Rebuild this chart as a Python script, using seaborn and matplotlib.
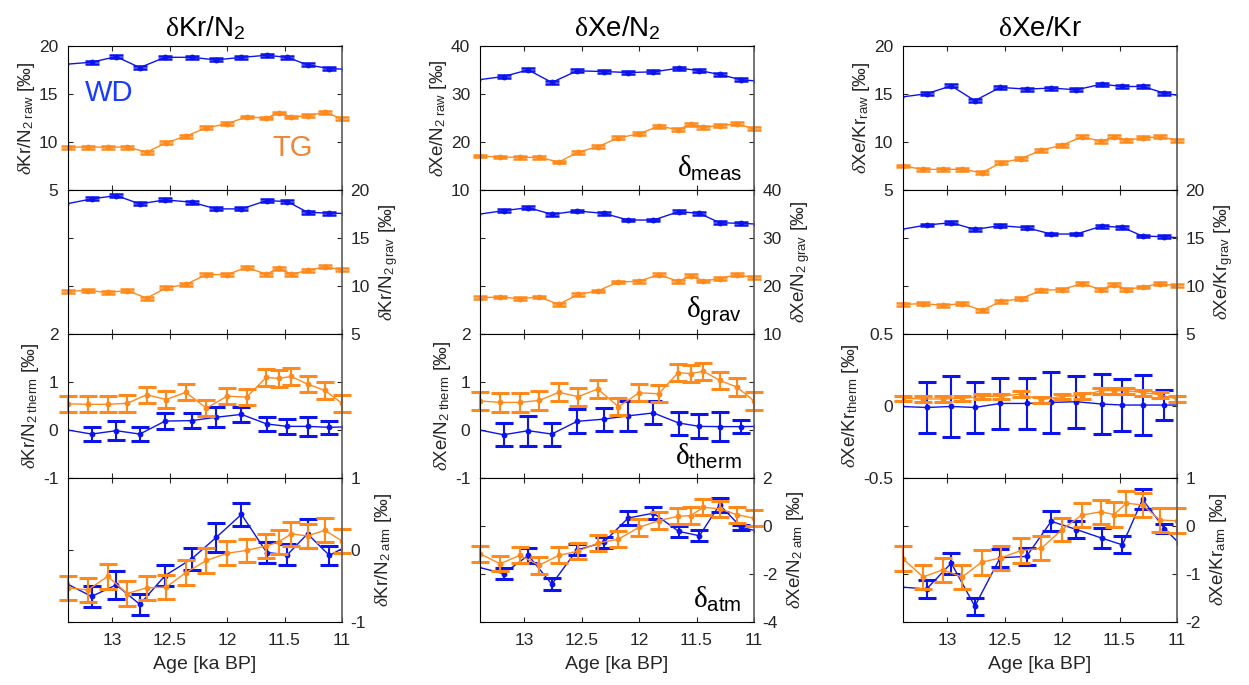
import numpy as np
import pandas as pd
import seaborn as sns
import matplotlib
matplotlib.use("Agg")
import matplotlib.pyplot as plt
from matplotlib.ticker import FixedLocator, FuncFormatter

# ---------------- data ----------------
AGE_TG = [13.385, 13.21, 13.04, 12.87, 12.70, 12.53, 12.36, 12.18, 12.00, 11.83,
          11.66, 11.55, 11.44, 11.30, 11.15, 11.00]
AGE_WD = [13.40, 13.18, 12.965, 12.76, 12.54, 12.31, 12.095, 11.875, 11.655,
          11.475, 11.30, 11.11, 10.98]
XTICKS = [13, 12.5, 12, 11.5, 11]

# Kr/N2
KRN2_RAW_WD = [18.10, 18.31, 18.89, 17.75, 18.82, 18.82, 18.55, 18.82, 19.03, 18.82, 18.03, 17.65, 17.58]
KRN2_RAW_TG = [9.46, 9.46, 9.46, 9.46, 8.94, 9.91, 10.60, 11.46, 11.91, 12.60, 12.50, 13.02, 12.60, 12.74, 13.09, 12.40]
KRN2_GRAV_WD = [18.54, 19.06, 19.41, 18.54, 18.96, 18.72, 18.02, 18.02, 18.89, 18.78, 17.67, 17.57, 17.55]
KRN2_GRAV_TG = [9.44, 9.51, 9.31, 9.51, 8.72, 9.79, 10.14, 11.18, 11.18, 11.91, 11.22, 11.84, 11.22, 11.60, 11.98, 11.67]
KRN2_THERM_WD = [0.0, -0.09, -0.02, -0.09, 0.18, 0.19, 0.26, 0.32, 0.12, 0.07, 0.07, 0.05, 0.06]
KRN2_THERM_WD_ERR = [0, 0.15, 0.20, 0.15, 0.16, 0.16, 0.21, 0.15, 0.15, 0.16, 0.20, 0.13, 0]
KRN2_THERM_TG = [0.54, 0.53, 0.53, 0.55, 0.73, 0.63, 0.78, 0.45, 0.70, 0.68, 1.09, 1.07, 1.11, 0.95, 0.82, 0.55]
KRN2_THERM_TG_ERR = [0.17, 0.17, 0.17, 0.17, 0.17, 0.17, 0.17, 0.17, 0.17, 0.17, 0.17, 0.17, 0.17, 0.17, 0.17, 0.17]
KRN2_ATM_WD = [-0.47, -0.65, -0.49, -0.76, -0.36, -0.13, 0.17, 0.49, -0.04, -0.07, 0.22, -0.08, 0.03]
KRN2_ATM_WD_ERR = [0, 0.15, 0.20, 0.15, 0.15, 0.15, 0.20, 0.155, 0.15, 0.15, 0.20, 0.13, 0]
KRN2_ATM_TG = [-0.53, -0.56, -0.37, -0.61, -0.53, -0.52, -0.32, -0.15, -0.05, -0.01, 0.05, 0.11, 0.22, 0.19, 0.27, 0.12]
KRN2_ATM_TG_ERR = [0.17, 0.17, 0.17, 0.18, 0.17, 0.17, 0.17, 0.17, 0.17, 0.16, 0.17, 0.17, 0.17, 0.17, 0.17, 0.17]
KRN2_MEAS_ERR = 0.15

# Xe/N2
XEN2_RAW_WD = [32.95, 33.64, 35.02, 32.40, 34.82, 34.68, 34.47, 34.61, 35.37, 34.89, 34.06, 32.95, 32.70]
XEN2_RAW_TG = [17.06, 16.85, 16.78, 16.78, 15.81, 17.88, 18.99, 20.86, 21.69, 23.28, 22.58, 23.69, 23.07, 23.41, 23.76, 22.72]
XEN2_GRAV_WD = [34.91, 35.67, 36.30, 34.91, 35.60, 35.12, 33.72, 33.72, 35.46, 35.12, 33.16, 33.02, 32.88]
XEN2_GRAV_TG = [17.53, 17.67, 17.32, 17.67, 16.13, 18.23, 18.93, 20.81, 20.95, 22.34, 20.95, 22.07, 21.02, 21.50, 22.34, 21.72]
XEN2_THERM_WD = [0.0, -0.105, -0.02, -0.09, 0.175, 0.22, 0.29, 0.35, 0.14, 0.07, 0.065, 0.065, 0.07]
XEN2_THERM_WD_ERR = [0, 0.24, 0.31, 0.24, 0.25, 0.24, 0.31, 0.24, 0.24, 0.25, 0.31, 0.13, 0]
XEN2_THERM_TG = [0.60, 0.57, 0.57, 0.61, 0.78, 0.69, 0.85, 0.48, 0.77, 0.75, 1.19, 1.17, 1.22, 1.03, 0.89, 0.60]
XEN2_THERM_TG_ERR = [0.19, 0.19, 0.19, 0.19, 0.19, 0.19, 0.18, 0.18, 0.18, 0.18, 0.18, 0.18, 0.18, 0.18, 0.18, 0.19]
XEN2_ATM_WD = [-1.73, -2.00, -1.24, -2.44, -1.01, -0.70, 0.32, 0.52, -0.24, -0.42, 0.87, -0.07, -0.22]
XEN2_ATM_WD_ERR = [0, 0.23, 0.30, 0.25, 0.23, 0.23, 0.31, 0.24, 0.23, 0.24, 0.29, 0.11, 0]
XEN2_ATM_TG = [-1.17, -1.59, -1.24, -1.65, -1.24, -1.06, -0.73, -0.56, -0.07, 0.21, 0.39, 0.42, 0.77, 0.70, 0.46, 0.31]
XEN2_ATM_TG_ERR = [0.33, 0.32, 0.33, 0.35, 0.33, 0.34, 0.32, 0.33, 0.35, 0.34, 0.34, 0.34, 0.34, 0.33, 0.33, 0.33]
XEN2_MEAS_ERR = 0.3

# Xe/Kr
XEKR_RAW_WD = [14.68, 15.02, 15.85, 14.30, 15.68, 15.51, 15.61, 15.44, 16.02, 15.78, 15.78, 15.09, 14.82]
XEKR_RAW_TG = [7.49, 7.14, 7.14, 7.14, 6.80, 7.83, 8.25, 9.15, 9.66, 10.53, 10.08, 10.53, 10.18, 10.42, 10.53, 10.18]
XEKR_GRAV_WD = [15.88, 16.34, 16.58, 15.88, 16.27, 16.06, 15.40, 15.40, 16.23, 16.09, 15.19, 15.12, 15.01]
XEKR_GRAV_TG = [8.07, 8.14, 7.97, 8.14, 7.44, 8.38, 8.66, 9.54, 9.61, 10.23, 9.61, 10.13, 9.61, 9.88, 10.23, 9.99]
XEKR_THERM_WD = [-0.005, -0.012, -0.005, -0.012, 0.016, 0.016, 0.023, 0.028, 0.012, 0.005, 0.005, 0.005, 0.005]
XEKR_THERM_WD_ERR = [0, 0.18, 0.21, 0.18, 0.18, 0.18, 0.21, 0.18, 0.21, 0.18, 0.21, 0.107, 0]
XEKR_THERM_TG = [0.051, 0.047, 0.047, 0.051, 0.065, 0.065, 0.082, 0.042, 0.065, 0.070, 0.105, 0.105, 0.105, 0.091, 0.077, 0.047]
XEKR_THERM_TG_ERR = [0.02, 0.02, 0.02, 0.02, 0.02, 0.02, 0.02, 0.02, 0.02, 0.02, 0.02, 0.02, 0.02, 0.02, 0.02, 0.02]
XEKR_ATM_WD = [-1.28, -1.32, -0.78, -1.68, -0.67, -0.64, 0.09, -0.08, -0.26, -0.40, 0.55, -0.06, -0.37]
XEKR_ATM_WD_ERR = [0, 0.18, 0.22, 0.18, 0.19, 0.18, 0.21, 0.18, 0.21, 0.18, 0.21, 0.10, 0]
XEKR_ATM_TG = [-0.69, -1.07, -0.92, -1.07, -0.76, -0.67, -0.52, -0.47, -0.08, 0.22, 0.29, 0.23, 0.47, 0.43, 0.12, 0.10]
XEKR_ATM_TG_ERR = [0.26, 0.26, 0.25, 0.26, 0.26, 0.25, 0.26, 0.25, 0.25, 0.25, 0.25, 0.26, 0.25, 0.25, 0.25, 0.26]
XEKR_MEAS_ERR = 0.15

TITLES = [r"$\mathsf{\delta}$Kr/N$_{\mathrm{2}}$", r"$\mathsf{\delta}$Xe/N$_{\mathrm{2}}$", r"$\mathsf{\delta}$Xe/Kr"]
YLABELS = [
    [r"$\delta$Kr/N$_{\mathrm{2\ raw}}$ [‰]", r"$\delta$Kr/N$_{\mathrm{2\ grav}}$ [‰]",
     r"$\delta$Kr/N$_{\mathrm{2\ therm}}$ [‰]", r"$\delta$Kr/N$_{\mathrm{2\ atm}}$ [‰]"],
    [r"$\delta$Xe/N$_{\mathrm{2\ raw}}$ [‰]", r"$\delta$Xe/N$_{\mathrm{2\ grav}}$ [‰]",
     r"$\delta$Xe/N$_{\mathrm{2\ therm}}$ [‰]", r"$\delta$Xe/N$_{\mathrm{2\ atm}}$ [‰]"],
    [r"$\delta$Xe/Kr$_{\mathrm{raw}}$ [‰]", r"$\delta$Xe/Kr$_{\mathrm{grav}}$ [‰]",
     r"$\delta$Xe/Kr$_{\mathrm{therm}}$ [‰]", r"$\delta$Xe/Kr$_{\mathrm{atm}}$ [‰]"],
]
YLIMS = [
    [(5, 20), (5, 20), (-1, 2), (-1, 1)],
    [(10, 40), (10, 40), (-1, 2), (-4, 2)],
    [(5, 20), (5, 20), (-0.5, 0.5), (-2, 1)],
]
YTICKS = [
    [[5, 10, 15, 20], [5, 10, 15, 20], [-1, 0, 1, 2], [-1, 0, 1]],
    [[10, 20, 30, 40], [10, 20, 30, 40], [-1, 0, 1, 2], [-4, -2, 0, 2]],
    [[5, 10, 15, 20], [5, 10, 15, 20], [-0.5, 0, 0.5], [-2, -1, 0, 1]],
]
STAGE_LABELS = [r"$\mathsf{\delta}_{\mathrm{meas}}$", r"$\mathsf{\delta}_{\mathrm{grav}}$",
                r"$\mathsf{\delta}_{\mathrm{therm}}$", r"$\mathsf{\delta}_{\mathrm{atm}}$"]

SERIES = [
    [(KRN2_RAW_WD, KRN2_MEAS_ERR, KRN2_RAW_TG, KRN2_MEAS_ERR),
     (KRN2_GRAV_WD, KRN2_MEAS_ERR, KRN2_GRAV_TG, KRN2_MEAS_ERR),
     (KRN2_THERM_WD, KRN2_THERM_WD_ERR, KRN2_THERM_TG, KRN2_THERM_TG_ERR),
     (KRN2_ATM_WD, KRN2_ATM_WD_ERR, KRN2_ATM_TG, KRN2_ATM_TG_ERR)],
    [(XEN2_RAW_WD, XEN2_MEAS_ERR, XEN2_RAW_TG, XEN2_MEAS_ERR),
     (XEN2_GRAV_WD, XEN2_MEAS_ERR, XEN2_GRAV_TG, XEN2_MEAS_ERR),
     (XEN2_THERM_WD, XEN2_THERM_WD_ERR, XEN2_THERM_TG, XEN2_THERM_TG_ERR),
     (XEN2_ATM_WD, XEN2_ATM_WD_ERR, XEN2_ATM_TG, XEN2_ATM_TG_ERR)],
    [(XEKR_RAW_WD, XEKR_MEAS_ERR, XEKR_RAW_TG, XEKR_MEAS_ERR),
     (XEKR_GRAV_WD, XEKR_MEAS_ERR, XEKR_GRAV_TG, XEKR_MEAS_ERR),
     (XEKR_THERM_WD, XEKR_THERM_WD_ERR, XEKR_THERM_TG, XEKR_THERM_TG_ERR),
     (XEKR_ATM_WD, XEKR_ATM_WD_ERR, XEKR_ATM_TG, XEKR_ATM_TG_ERR)],
]

# ---------------- style ----------------
sns.set_theme(style="ticks")
plt.rcParams["font.family"] = ["Liberation Sans", "DejaVu Sans"]
plt.rcParams.update({
    "mathtext.fontset": "custom",
    "mathtext.rm": "Liberation Sans",
    "mathtext.it": "Liberation Serif:italic",
    "mathtext.sf": "Liberation Serif",
    "mathtext.bf": "Liberation Sans:bold",
    "axes.unicode_minus": False,
    "axes.facecolor": "white",
    "figure.facecolor": "white",
    "axes.linewidth": 0.8,
})

BLUE = "#0c14ee"
ORANGE = "#ff8a1c"
TXT = "#262626"
XLIM = (13.385, 11.0)

W, H = 1249, 685
COL_LEFT = [68, 480, 903]
COL_W = 274
ROW_TOP = 46
ROW_H = 143.9

fig = plt.figure(figsize=(W / 100, H / 100), dpi=100)
fmt = FuncFormatter(lambda v, p: f"{v:g}")


def draw(ax, ages, vals, errs, color, capsize, capthick):
    ages = np.asarray(ages, float)
    vals = np.asarray(vals, float)
    errs = np.broadcast_to(np.asarray(errs, float), vals.shape)
    sns.lineplot(x=ages, y=vals, ax=ax, color=color, lw=1.0, marker="o",
                 markersize=4.2, markeredgewidth=0, sort=False,
                 estimator=None, legend=False)
    inside = (ages <= XLIM[0] + 1e-6) & (ages >= XLIM[1] - 1e-6)
    cont = ax.errorbar(ages[inside], vals[inside], yerr=errs[inside], fmt="none",
                       ecolor=color, elinewidth=1.5, capsize=capsize, capthick=capthick)
    for art in cont.get_children():
        art.set_clip_on(False)


for c in range(3):
    for r in range(4):
        bottom = 1 - (ROW_TOP + (r + 1) * ROW_H) / H
        ax = fig.add_axes([COL_LEFT[c] / W, bottom, COL_W / W, ROW_H / H])
        wd, wd_err, tg, tg_err = SERIES[c][r]
        if r < 2:
            cs, ct = 5, 1.8
        else:
            cs, ct = 6.5, 2.2
        draw(ax, AGE_WD, wd, wd_err, BLUE, cs, ct)
        draw(ax, AGE_TG, tg, tg_err, ORANGE, cs, ct)

        ax.set_xlim(*XLIM)
        ax.set_ylim(*YLIMS[c][r])
        ax.xaxis.set_major_locator(FixedLocator(XTICKS))
        ax.xaxis.set_major_formatter(fmt)
        ax.yaxis.set_major_locator(FixedLocator(YTICKS[c][r]))
        ax.yaxis.set_major_formatter(fmt)
        ax.set_xlabel("")
        ax.set_ylabel("")

        left_side = (r % 2 == 0)
        ax.tick_params(axis="both", direction="in", length=3.8, width=0.8,
                       colors=TXT, labelsize=12.5)
        ax.tick_params(axis="x", top=True, bottom=True, labelbottom=(r == 3), pad=8)
        ax.tick_params(axis="y", left=True, right=True,
                       labelleft=left_side, labelright=not left_side,
                       pad=7 if left_side else 6)
        for s in ["left", "top", "bottom"]:
            ax.spines[s].set_color("black")
        ax.spines["right"].set_color("#5c5c5c")
        ax.spines["right"].set_linewidth(1.2)

        if left_side:
            ax.set_ylabel(YLABELS[c][r], fontsize=13.5, color=TXT, labelpad=1.5)
        else:
            ax.yaxis.set_label_position("right")
            ax.set_ylabel(YLABELS[c][r], fontsize=13.5, color=TXT, labelpad=5,
                          rotation=90)
        if r == 0:
            ax.set_title(TITLES[c], fontsize=20, color="black", pad=7)
        if r == 3:
            ax.set_xlabel("Age [ka BP]", fontsize=14, color=TXT, labelpad=6)

        if c == 1:
            ax.text(0.955, 0.05, STAGE_LABELS[r], transform=ax.transAxes,
                    ha="right", va="bottom", fontsize=21, color="black")
        if c == 0 and r == 0:
            ax.text(0.15, 0.675, "WD", transform=ax.transAxes, ha="center",
                    va="center", fontsize=21, color="#1a3aff")
            ax.text(0.82, 0.288, "TG", transform=ax.transAxes, ha="center",
                    va="center", fontsize=21, color="#f08536")

fig.savefig("out.png", dpi=100)
